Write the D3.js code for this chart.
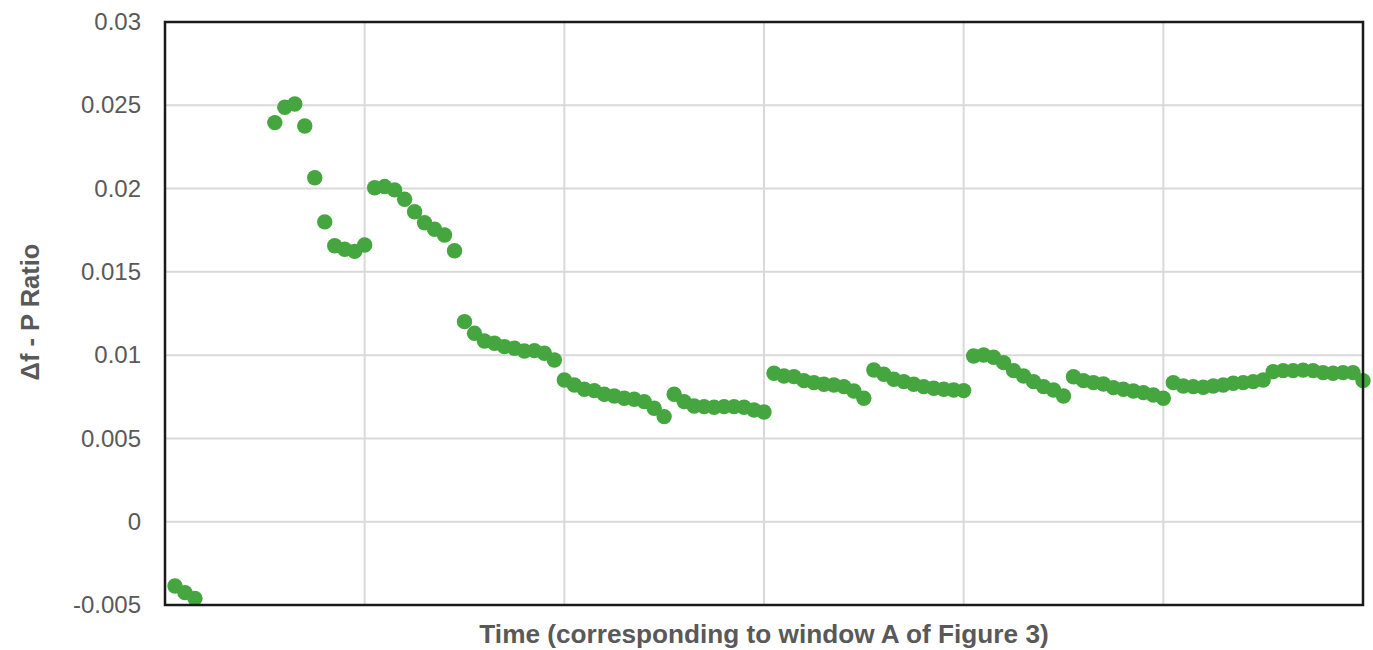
<!DOCTYPE html>
<html>
<head>
<meta charset="utf-8">
<script src="https://cdn.jsdelivr.net/npm/d3@7"></script>
<style>
html,body{margin:0;padding:0;background:#fff;}
svg{display:block;font-family:"Liberation Sans",Arial,sans-serif;}
</style>
</head>
<body>
<svg id="chart" width="1373" height="650"></svg>
<script>
// sample index (1-based position along time axis, 0.05 units apart); indices 4..10 are off-scale/missing
const sampleIndex = [1,2,3,11,12,13,14,15,16,17,18,19,20,21,22,23,24,25,26,27,28,29,30,31,32,33,34,35,36,37,38,39,40,41,42,43,44,45,46,47,48,49,50,51,52,53,54,55,56,57,58,59,60,61,62,63,64,65,66,67,68,69,70,71,72,73,74,75,76,77,78,79,80,81,82,83,84,85,86,87,88,89,90,91,92,93,94,95,96,97,98,99,100,101,102,103,104,105,106,107,108,109,110,111,112,113,114,115,116,117,118,119,120];
const ratioValues = [
  -0.00386,-0.00426,-0.0046,
  0.02396,0.02488,0.02508,0.02376,0.02065,0.0180,0.01657,0.01636,0.01623,0.01661,
  0.02005,0.02012,0.01992,0.01936,0.01861,0.01795,0.01756,0.01721,0.01627,
  0.01201,0.01131,0.01085,0.01071,0.01051,0.01041,0.01025,0.01027,0.01011,0.00971,
  0.00851,0.00821,0.00795,0.00787,0.00765,0.00755,0.00741,0.00735,0.00721,0.00681,0.00631,
  0.00765,0.00721,0.00695,0.00691,0.00687,0.00691,0.00691,0.00687,0.00671,0.00659,
  0.00891,0.00875,0.00871,0.00847,0.00835,0.00825,0.00821,0.00811,0.00785,0.00741,
  0.00911,0.00885,0.00855,0.00841,0.00825,0.00811,0.00801,0.00795,0.00791,0.00787,
  0.00995,0.01001,0.00987,0.00955,0.00907,0.00875,0.00841,0.00811,0.00791,0.00755,
  0.0087,0.00847,0.00835,0.00827,0.00805,0.00795,0.00785,0.00775,0.00761,0.00741,
  0.00835,0.00815,0.00811,0.00807,0.00815,0.00821,0.00831,0.00835,0.00841,0.00851,
  0.00901,0.00907,0.00907,0.0091,0.00907,0.00895,0.00891,0.00895,0.00895,0.00847
];
const yTicks = [-0.005,0,0.005,0.01,0.015,0.02,0.025,0.03];
const yTickLabels = ["-0.005","0","0.005","0.01","0.015","0.02","0.025","0.03"];
const xGridTicks = [1,2,3,4,5];
const xTitle = "Time (corresponding to window A of Figure 3)";
const yTitle = "Δf - P Ratio";

const svg = d3.select("#chart");
const m = {left:165, right:1363, top:22, bottom:605};
const x = d3.scaleLinear().domain([0,6]).range([m.left, m.right]);
const y = d3.scaleLinear().domain([-0.005,0.03]).range([m.bottom, m.top]);

// grid
svg.append("g").selectAll("line.h").data(yTicks).join("line")
  .attr("x1", m.left).attr("x2", m.right)
  .attr("y1", d=>y(d)).attr("y2", d=>y(d))
  .attr("stroke", "#d9d9d9").attr("stroke-width", 2);
svg.append("g").selectAll("line.v").data(xGridTicks).join("line")
  .attr("x1", d=>x(d)).attr("x2", d=>x(d))
  .attr("y1", m.top).attr("y2", m.bottom)
  .attr("stroke", "#d9d9d9").attr("stroke-width", 2);

// y axis labels
const yAxis = d3.axisLeft(y).tickValues(yTicks).tickSize(0).tickPadding(24)
  .tickFormat((d,i)=>yTickLabels[i]);
const ya = svg.append("g").attr("transform", `translate(${m.left},0)`).call(yAxis);
ya.select(".domain").remove();
ya.selectAll("text").attr("fill", "#595959").style("font-size", "24px")
  .style("font-family", "'Liberation Sans',Arial,sans-serif");

// points
const pts = sampleIndex.map((s,i)=>({t:s*0.05, v:ratioValues[i]}));
svg.append("g").selectAll("circle").data(pts).join("circle")
  .attr("cx", d=>x(d.t)).attr("cy", d=>y(d.v)).attr("r", 7.7)
  .attr("fill", "#45a640");

// frame
svg.append("rect").attr("x", m.left).attr("y", m.top)
  .attr("width", m.right-m.left).attr("height", m.bottom-m.top)
  .attr("fill", "none").attr("stroke", "#1a1a1a").attr("stroke-width", 2.5);

// titles
svg.append("text").attr("x", 764).attr("y", 643)
  .attr("text-anchor", "middle").attr("fill", "#595959")
  .style("font-size", "26.2px").style("font-weight", "bold").text(xTitle);
svg.append("text").attr("transform", `translate(39,${312}) rotate(-90)`)
  .attr("text-anchor", "middle").attr("fill", "#595959")
  .style("font-size", "25.5px").style("font-weight", "bold").text(yTitle);
</script>
</body>
</html>
